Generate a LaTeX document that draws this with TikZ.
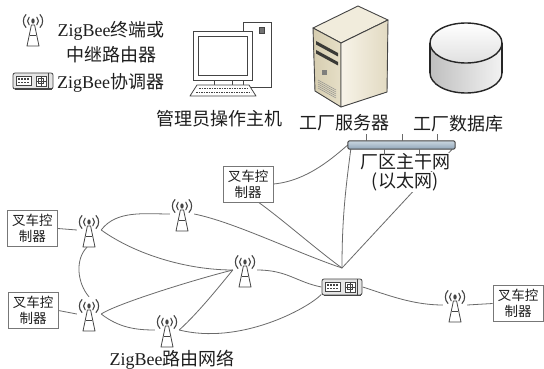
\documentclass[tikz,border=0pt]{standalone}
\usepackage{fontspec}
\setmainfont{Liberation Serif}
\newfontfamily\cjk{Noto Sans CJK SC}
\usetikzlibrary{backgrounds}

\definecolor{ink}{HTML}{1E1E1E}
\definecolor{wirec}{HTML}{6A6A6A}
\definecolor{edgec}{HTML}{444444}
\definecolor{boxc}{HTML}{777777}
\definecolor{svtop}{HTML}{F1ECDC}
\definecolor{svfrontA}{HTML}{D6CDB0}
\definecolor{svfrontB}{HTML}{E6DFC7}
\definecolor{svsideA}{HTML}{F7F3E8}
\definecolor{svsideB}{HTML}{E2DAC2}
\definecolor{svdark}{HTML}{3A3A36}
\definecolor{barA}{HTML}{CBD7E1}
\definecolor{barB}{HTML}{8FA5B8}

\tikzset{
  wire/.style={draw=wirec, line width=0.8pt},
  ctrl/.style={draw=boxc, line width=0.8pt, minimum width=50pt, minimum height=36pt,
    inner sep=1pt, align=center, text=ink, font=\cjk\fontsize{13.5}{16}\selectfont},
  lbl/.style={inner sep=1pt, text=ink, font=\cjk\fontsize{18}{25}\selectfont},
  antspot/.style={minimum width=24pt, minimum height=34pt, inner sep=0pt},
  coordspot/.style={minimum width=41pt, minimum height=18pt, inner sep=0pt},
  pcline/.style={draw=edgec, line width=0.8pt},
  svline/.style={draw=edgec, line width=0.9pt, line join=round},
  dbline/.style={draw=black!85, line width=1.4pt},
  antenna/.pic={
    % lattice tower
    \draw[edgec, line width=0.8pt, fill=white, line join=round]
      (-1.6,-4) -- (-6,17) -- (6,17) -- (1.6,-4) -- cycle;
    \draw[edgec, line width=0.6pt] (-3.4,6) -- (3.4,6);
    % radio waves
    \fill[edgec] (0,-8) ellipse [x radius=1.7pt, y radius=2.6pt];
    \draw[edgec, line width=1.1pt, line cap=round]
      (3.8,-11.8) .. controls (6,-9.8) and (6,-6.2) .. (3.8,-4.2)
      (7,-14.5) .. controls (10.5,-11) and (10.5,-5) .. (7,-1.5)
      (-3.8,-11.8) .. controls (-6,-9.8) and (-6,-6.2) .. (-3.8,-4.2)
      (-7,-14.5) .. controls (-10.5,-11) and (-10.5,-5) .. (-7,-1.5);
  },
  coordinator/.pic={
    \draw[edgec, line width=0.8pt, fill=black!10, rounded corners=2pt] (-20,-8) rectangle (20,8);
    \draw[edgec, line width=1.6pt] (-18.5,8.3) -- (18.5,8.3);
    \draw[edgec, line width=0.6pt, fill=white] (-17,-4.5) rectangle (-1.5,4.5);
    \foreach \kx in {-14,-11,-8,-5}{
      \fill[edgec] (\kx-0.7,-2.6) rectangle (\kx+0.7,-1.2);
      \fill[edgec] (\kx-0.7,0.8) rectangle (\kx+0.7,2.2);
    }
    \draw[edgec, line width=0.6pt, fill=white] (3,-5) rectangle (13,5);
    \draw[edgec, line width=0.5pt] (8,-5) -- (8,5) (3,0) -- (13,0) (5.5,-2.5) rectangle (10.5,2.5);
    \draw[edgec, line width=0.5pt] (15.5,-8) -- (15.5,8);
  }
}

\begin{document}
\begin{tikzpicture}[x=1pt, y=-1pt]
\useasboundingbox (0,0) rectangle (544,369);

% ---- node placement ----
\node[antspot] (legant) at (33,29) {};
\node[coordspot] (legco) at (33,81) {};
\node[antspot] (a1) at (89,230) {};
\node[antspot] (a2) at (182,214) {};
\node[antspot] (a3) at (245,270) {};
\node[antspot] (a4) at (89,314) {};
\node[antspot] (a5) at (167,330) {};
\node[antspot] (a6) at (455,305) {};
\node[coordspot] (co) at (342,287) {};
\coordinate (J) at (342,268);

\node[ctrl] (c1) at (248,184) {叉车控\\制器};
\node[ctrl] (c2) at (32.5,228.5) {叉车控\\制器};
\node[ctrl] (c3) at (33,310.5) {叉车控\\制器};
\node[ctrl] (c4) at (518,303.5) {叉车控\\制器};

\node[minimum width=107pt, minimum height=8pt, inner sep=0pt] (bar) at (401.5,145) {};

% ---- links (kept under the icons) ----
\begin{pgfonlayer}{background}
\fill[white] (0,0) rectangle (544,369);
\draw[wire] (c2.east) -- (a1.west);
\draw[wire] (c3.east) -- (a4.west);
\draw[wire] (a6.east) -- (c4.west);
\draw[wire] ([xshift=-2pt]a1.south) .. controls +(-12,12) and +(-12,-14) .. (a4.north);
\draw[wire] (a1.east) .. controls +(15,-20) and +(-25,0) .. (a2.west);
\draw[wire] (a1.east) .. controls +(35,25) and +(-45,0) .. (a3.west);
\draw[wire] (a4.east) .. controls +(15,-10) and +(-40,10) .. (a3.west);
\draw[wire] (a4.east) .. controls +(18,14) and +(-18,0) .. (a5.west);
\draw[wire] (a5.east) .. controls +(20,-18) and +(-10,12) .. (a3.west);
\draw[wire] (a3.east) .. controls +(30,0) and +(-25,-5) .. (co.west);
\draw[wire] (a5.east) .. controls +(60,15) and +(-15,15) .. (co.200);
\draw[wire] (a2.east) .. controls +(40,8) and +(-45,-15) .. (J);
\draw[wire] (c1.300) .. controls +(25,18) and +(-25,-18) .. (J);
\draw[wire] (c1.east) .. controls +(35,-3) and +(-12,10) .. (bar.west);
\draw[wire] ([xshift=3pt]bar.south west) .. controls +(-6,45) and +(0,-45) .. (J);
\draw[wire] (J) -- ([xshift=-3pt]bar.south east);
\draw[wire] (co.east) .. controls +(25,8) and +(-30,0) .. (a6.west);
\end{pgfonlayer}

% ---- icons ----
\foreach \n in {legant,a1,a2,a3,a4,a5,a6} \pic at (\n) {antenna};
\pic at (legco) {coordinator};
\pic at (co) {coordinator};

% ---- labels ----
\node[lbl, align=center] (leg1) at (111,42) {{\rmfamily ZigBee}终端或\\中继路由器};
\node[lbl, anchor=west] (leg2) at (56,83) {{\rmfamily ZigBee}协调器};
\node[lbl] (pcl) at (219,119) {管理员操作主机};
\node[lbl] (svl) at (344,123) {工厂服务器};
\node[lbl] (dbl) at (458,124) {工厂数据库};
\node[lbl, fill=white] (bb1) at (405,162) {厂区主干网};
\node[lbl, fill=white] (bb2) at (405,182) {(以太网)};
\node[lbl] (znet) at (172,360) {{\rmfamily ZigBee}路由网络};

% ---- backbone bar with drop ticks ----
\draw[edgec, line width=1pt, top color=barA, bottom color=barB, rounded corners=2pt]
  (bar.north west) rectangle (bar.south east);
\foreach \dx in {19,55,90} \draw[wire] ([xshift=\dx pt]bar.north west) -- ++(0,-7);
\foreach \dx in {37,72} \draw[wire] ([xshift=\dx pt]bar.south west) -- ++(0,6);

% ---- operator workstation ----
\draw[pcline, fill=white] (243,22) rectangle (271,87);
\draw[pcline, fill=black!55] (259,27) rectangle (264,33);
\draw[pcline, fill=white] (193,31) rectangle (252,80);
\draw[pcline] (198,36) rectangle (247,75);
\draw[pcline, fill=white] (214,80) rectangle (232,85);
\draw[pcline, fill=white, line join=round] (197,85) -- (249,85) -- (256,96) -- (190,96) -- cycle;
\draw[pcline, line width=1.2pt, dash pattern=on 1.6pt off 0.9pt] (199,88.5) -- (248,88.5);
\draw[pcline, line width=1.2pt, dash pattern=on 1.6pt off 0.9pt] (196,92.5) -- (251,92.5);

% ---- server tower ----
\filldraw[svline, fill=svtop] (313,28) -- (358,6) -- (388,20) -- (341,43) -- cycle;
\filldraw[svline, left color=svfrontA, right color=svfrontB] (313,28) -- (341,43) -- (341,107) -- (315,91) -- cycle;
\filldraw[svline, left color=svsideA, right color=svsideB] (341,43) -- (388,20) -- (387,92) -- (341,107) -- cycle;
\fill[svdark] (316,41) -- (338,53) -- (338,56.5) -- (316,44.5) -- cycle;
\fill[svdark] (316,50) -- (338,62) -- (338,65.5) -- (316,53.5) -- cycle;
\fill[svdark!65] (322,70) rectangle (327,75);
\foreach \k in {0,...,4} \draw[svdark!55, line width=0.5pt] (318,80+2*\k) -- (336,90+2*\k);

% ---- database ----
\filldraw[dbline, left color=black!25, right color=black!5] (466,73) ellipse [x radius=36pt, y radius=20pt];
\fill[left color=black!25, right color=black!5] (430,43) rectangle (502,73);
\draw[dbline] (430,43) -- (430,73) (502,43) -- (502,73);
\filldraw[dbline, top color=white, bottom color=black!12] (466,43) ellipse [x radius=36pt, y radius=20pt];

\end{tikzpicture}
\end{document}
